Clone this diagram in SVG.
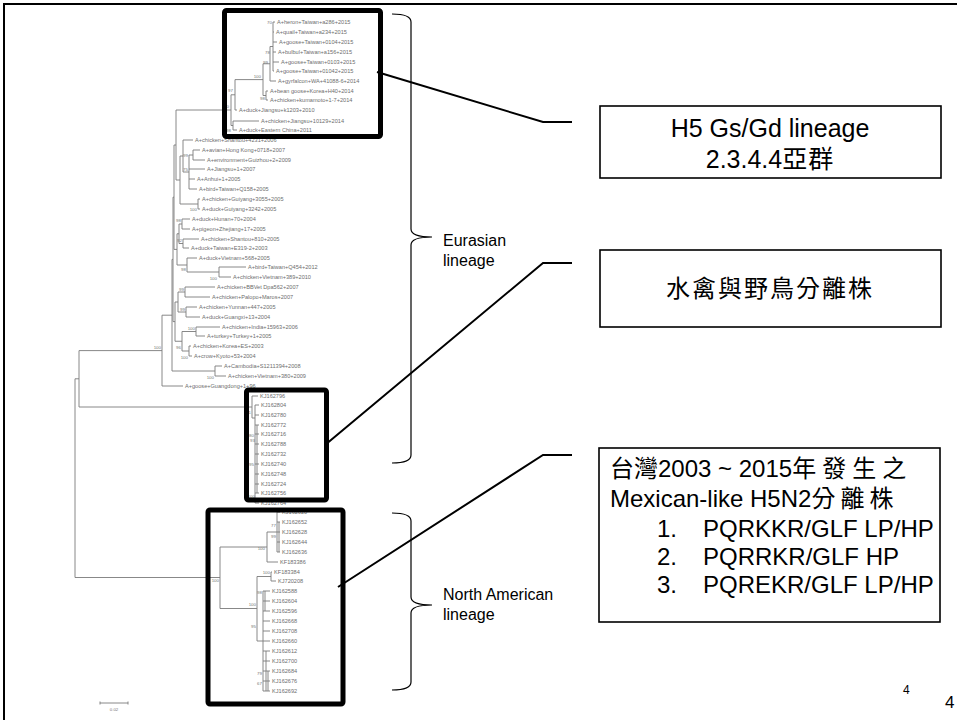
<svg xmlns="http://www.w3.org/2000/svg" width="957" height="720" viewBox="0 0 957 720">
<style>
.br{fill:none;stroke:#7a7a7a;stroke-width:0.9}
.lf{font-family:"Liberation Sans",Arial,sans-serif;font-size:5.6px;fill:#6e6e6e}
.bs{font-family:"Liberation Sans",Arial,sans-serif;font-size:4.4px;fill:#777;text-anchor:end}
.hl{fill:none;stroke:#000;stroke-width:5;stroke-linejoin:round}
.bx{fill:#fff;stroke:#000;stroke-width:1.6}
.t24{font-family:"Liberation Sans","Noto Sans CJK TC",sans-serif;font-size:24px;fill:#000}
.cjk{font-family:"Noto Sans CJK TC",sans-serif}
.t16{font-family:"Liberation Sans",Arial,sans-serif;font-size:16px;fill:#000}
.cn{fill:none;stroke:#000;stroke-width:2}
.bk{fill:none;stroke:#000;stroke-width:1.2}
</style>
<rect width="957" height="720" fill="#fff"/>
<path d="M4,720 V4 H957" fill="none" stroke="#000" stroke-width="2"/>

<g id="tree">
<path class="br" d="
M75,378.8 V577.5 M75,378.8 H79 M79,350.6 V407 M79,350.6 H162 M79,407 H252 M75,577.5 H220
M162,315.2 V386 M162,315.2 H172 M162,386 H183
M172,259.4 V371 M172,259.4 H173 M172,371 H215 M215,366 V376 M215,366 H222 M215,376 H226
M173,197.2 V321.6 M173,197.2 H174 M173,321.6 H175
M174,145 V249.4 M174,145 H176 M174,249.4 H177
M176,110 V180 M176,110 H231 M176,180 H180
M180,156 V204 M180,156 H183 M180,204 H198
M183,140 V172 M183,140 H193 M183,172 H189
M189,155 V189 M189,155 H193 M189,169 H205 M189,179 H195 M189,189 H197
M193,150 V160 M193,150 H200 M193,160 H205
M198,199 V209 M198,199 H200 M198,209 H200
M177,233.75 V265 M177,233.75 H179 M177,265 H187
M179,224 V243.5 M179,224 H182 M179,243.5 H183
M182,219 V229 M182,219 H190 M182,229 H190
M183,239 V248 M183,239 H199 M183,248 H189
M187,258 V272 M187,258 H197 M187,272 H219
M219,267 V277 M219,267 H246 M219,277 H231
M175,302 V341.25 M175,302 H178 M175,341.25 H182
M178,292 V312 M178,292 H185 M178,312 H186
M185,287 V297 M185,287 H215 M185,297 H210
M186,307 V317 M186,307 H197 M186,317 H200
M182,331.5 V351 M182,331.5 H196 M182,351 H189
M196,327 V336 M196,327 H220 M196,336 H205
M189,346 V356 M189,346 H191 M189,356 H192
M231,94.8 V125.5 M231,94.8 H235 M231,125.5 H233
M235,79.6 V110 M235,79.6 H263 M235,110 H237
M233,121 V130 M233,121 H259 M233,130 H237
M263,63.75 V95.5 M263,63.75 H270 M263,95.5 H266
M266,91 V100 M266,91 H268 M266,100 H268
M270,46.5 V81 M270,46.5 H273 M270,81 H276
M273,22 V71 M273,22 H275 M273,32 H274 M273,42 H277 M273,52 H276 M273,62 H279 M273,71 H274
M252,396 V418 M252,396 H258 M252,418 H255
M255,405 V503 M255,405 H259 M255,415 H259 M255,425 H259 M255,434 H259 M255,444 H259 M255,454 H259 M255,464 H259 M255,474 H259 M255,484 H259 M255,493 H259 M255,503 H259
M257,425 V493
M220,547 V608.5 M220,547 H267 M220,608.5 H257
M267,532 V562 M267,532 H277 M267,562 H278
M277,512 V552 M277,512 H280 M277,522 H280 M277,532 H280 M277,542 H280 M277,552 H280 M279,522 V552
M257,576.5 V641 M257,576.5 H271 M257,641 H263
M271,572 V581 M271,572 H272 M271,581 H276
M263,591 V691 M263,591 H270 M263,601 H270 M263,611 H270 M263,621 H270 M263,631 H270 M263,641 H270 M263,651 H270 M263,661 H270 M263,671 H270 M263,681 H270 M263,691 H270
M265,591 V611 M266,651 V691 M268,671 V691
"/>
<g class="lf">
<text x="277" y="24">A+heron+Taiwan+a286+2015</text>
<text x="276" y="34">A+quail+Taiwan+a234+2015</text>
<text x="279" y="44">A+goose+Taiwan+0104+2015</text>
<text x="278" y="54">A+bulbul+Taiwan+a156+2015</text>
<text x="281" y="64">A+goose+Taiwan+0103+2015</text>
<text x="276" y="73">A+goose+Taiwan+01042+2015</text>
<text x="278" y="83">A+gyrfalcon+WA+41088-6+2014</text>
<text x="270" y="93">A+bean goose+Korea+H40+2014</text>
<text x="270" y="102">A+chicken+kumamoto+1-7+2014</text>
<text x="239" y="112">A+duck+Jiangsu+k1203+2010</text>
<text x="261" y="123">A+chicken+Jiangsu+10129+2014</text>
<text x="239" y="132">A+duck+Eastern China+2011</text>
<text x="195" y="142">A+chicken+Shantou+4231+2006</text>
<text x="202" y="152">A+avian+Hong Kong+0718+2007</text>
<text x="207" y="162">A+environment+Guizhou+2+2009</text>
<text x="207" y="171">A+Jiangsu+1+2007</text>
<text x="197" y="181">A+Anhui+1+2005</text>
<text x="199" y="191">A+bird+Taiwan+Q158+2005</text>
<text x="202" y="201">A+chicken+Guiyang+3055+2005</text>
<text x="202" y="211">A+duck+Guiyang+3242+2005</text>
<text x="192" y="221">A+duck+Hunan+70+2004</text>
<text x="192" y="231">A+pigeon+Zhejiang+17+2005</text>
<text x="201" y="241">A+chicken+Shantou+810+2005</text>
<text x="191" y="250">A+duck+Taiwan+E319-2+2003</text>
<text x="199" y="260">A+duck+Vietnam+568+2005</text>
<text x="248" y="269">A+bird+Taiwan+Q454+2012</text>
<text x="233" y="279">A+chicken+Vietnam+389+2010</text>
<text x="217" y="289">A+chicken+BBVet Dpa562+2007</text>
<text x="212" y="299">A+chicken+Palopo+Maros+2007</text>
<text x="199" y="309">A+chicken+Yunnan+447+2005</text>
<text x="202" y="319">A+duck+Guangxi+13+2004</text>
<text x="222" y="329">A+chicken+India+15963+2006</text>
<text x="207" y="338">A+turkey+Turkey+1+2005</text>
<text x="193" y="348">A+chicken+Korea+ES+2003</text>
<text x="194" y="358">A+crow+Kyoto+53+2004</text>
<text x="224" y="368">A+Cambodia+S1211394+2008</text>
<text x="228" y="378">A+chicken+Vietnam+380+2009</text>
<text x="185" y="388">A+goose+Guangdong+1+96</text>
<text x="260" y="398">KJ162796</text>
<text x="261" y="407">KJ162804</text>
<text x="261" y="417">KJ162780</text>
<text x="261" y="427">KJ162772</text>
<text x="261" y="436">KJ162716</text>
<text x="261" y="446">KJ162788</text>
<text x="261" y="456">KJ162732</text>
<text x="261" y="466">KJ162740</text>
<text x="261" y="476">KJ162748</text>
<text x="261" y="486">KJ162724</text>
<text x="261" y="495">KJ162756</text>
<text x="261" y="505">KJ162764</text>
<text x="282" y="514">KJ162620</text>
<text x="282" y="524">KJ162652</text>
<text x="282" y="534">KJ162628</text>
<text x="282" y="544">KJ162644</text>
<text x="282" y="554">KJ162636</text>
<text x="280" y="564">KF183386</text>
<text x="274" y="574">KF183384</text>
<text x="278" y="583">KJ720208</text>
<text x="272" y="593">KJ162588</text>
<text x="272" y="603">KJ162604</text>
<text x="272" y="613">KJ162596</text>
<text x="272" y="623">KJ162668</text>
<text x="272" y="633">KJ162708</text>
<text x="272" y="643">KJ162660</text>
<text x="272" y="653">KJ162612</text>
<text x="272" y="663">KJ162700</text>
<text x="272" y="673">KJ162684</text>
<text x="272" y="683">KJ162676</text>
<text x="272" y="693">KJ162692</text>
</g>
<g class="bs">
<text x="272" y="24">70</text><text x="270" y="54">78</text><text x="268" y="64">99</text>
<text x="261" y="78">100</text><text x="265" y="100">98</text><text x="233" y="92">97</text>
<text x="231" y="132">98</text><text x="229" y="108">100</text>
<text x="188" y="157">99</text><text x="188" y="171">75</text><text x="197" y="211">100</text>
<text x="181" y="222">98</text><text x="182" y="242">92</text><text x="186" y="271">98</text>
<text x="217" y="280">100</text><text x="184" y="291">99</text><text x="185" y="311">99</text>
<text x="195" y="330">100</text><text x="181" y="349">96</text><text x="188" y="359">100</text>
<text x="214" y="379">100</text><text x="161" y="349">100</text>
<text x="251" y="414">91</text><text x="254" y="437">80</text><text x="255" y="442">93</text>
<text x="254" y="466">95</text><text x="255" y="498">100</text>
<text x="219" y="582">100</text><text x="265" y="550">100</text><text x="276" y="527">77</text>
<text x="276" y="538">99</text><text x="270" y="574">100</text><text x="262" y="594">98</text>
<text x="256" y="628">95</text><text x="262" y="675">79</text><text x="262" y="685">67</text>
<text x="256" y="606">100</text>
</g>
<path class="br" d="M100,703 H128 M100,701.5 V704.5 M128,701.5 V704.5"/>
<text x="114" y="711" style="font-family:'Liberation Sans',sans-serif;font-size:4.4px;fill:#777;text-anchor:middle">0.02</text>
</g>

<g id="box-h5-clade"><rect class="hl" x="224.5" y="10.5" width="156" height="126" rx="2"/></g>
<g id="box-kj-clade"><rect class="hl" x="246.5" y="390" width="80" height="110" rx="2"/></g>
<g id="box-na-clade"><rect class="hl" x="208" y="510" width="135" height="194" rx="2"/></g>

<g id="eurasian-bracket">
<path class="bk" d="M392,14 Q411,14 411,22 V229 Q411,237 432,237 Q411,237 411,245 V455 Q411,463 392,463"/>
<text class="t16" x="443" y="246">Eurasian</text>
<text class="t16" x="443" y="266">lineage</text>
</g>
<g id="na-bracket">
<path class="bk" d="M392,513 Q411,513 411,521 V597 Q411,605 432,605 Q411,605 411,613 V682 Q411,690 392,690"/>
<text class="t16" x="443" y="600">North American</text>
<text class="t16" x="443" y="620">lineage</text>
</g>

<g id="connectors">
<path class="cn" d="M377,72 L543,122 H572"/>
<path class="cn" d="M325,445 L543,263 H572"/>
<path class="cn" d="M338,587 L543,455 H572"/>
</g>

<g id="note-h5">
<rect class="bx" x="600" y="106" width="341" height="72"/>
<text class="t24" x="770" y="137" text-anchor="middle" style="font-size:25px">H5 Gs/Gd lineage</text>
<text class="t24" x="770" y="168" text-anchor="middle" style="font-size:25px">2.3.4.4<tspan class="cjk" style="letter-spacing:1px">亞群</tspan></text>
</g>
<g id="note-waterfowl">
<rect class="bx" x="600" y="250" width="341" height="77"/>
<text class="t24 cjk" x="770" y="297" text-anchor="middle" style="letter-spacing:2px">水禽與野鳥分離株</text>
</g>
<g id="note-mexican">
<rect class="bx" x="599" y="448" width="341" height="174"/>
<text class="t24" x="610" y="477"><tspan class="cjk">台灣</tspan>2003 ~ 2015<tspan class="cjk" style="letter-spacing:6px">年發生之</tspan></text>
<text class="t24" x="610" y="507">Mexican-like H5N2<tspan class="cjk" style="letter-spacing:5px">分離株</tspan></text>
<text class="t24" x="657" y="537">1.</text><text class="t24" x="703" y="537">PQRKKR/GLF LP/HP</text>
<text class="t24" x="657" y="565">2.</text><text class="t24" x="703" y="565">PQRRKR/GLF HP</text>
<text class="t24" x="657" y="593">3.</text><text class="t24" x="703" y="593">PQREKR/GLF LP/HP</text>
</g>

<text x="903" y="694" style="font-family:'Liberation Sans',sans-serif;font-size:12px">4</text>
<text x="945" y="708" style="font-family:'Liberation Sans',sans-serif;font-size:17px">4</text>
</svg>
